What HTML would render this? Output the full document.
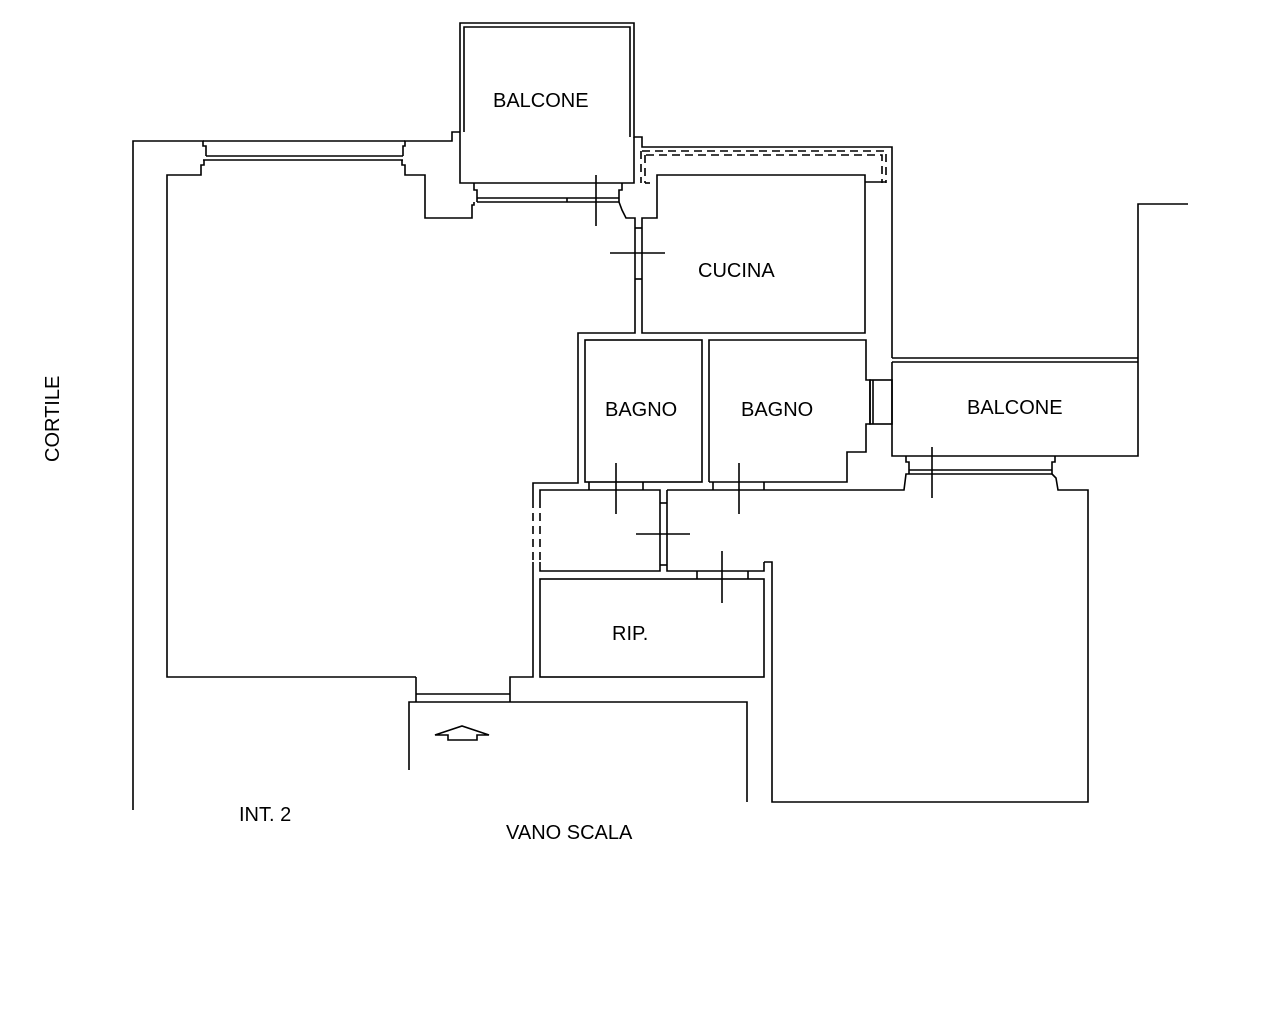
<!DOCTYPE html>
<html><head><meta charset="utf-8"><style>
html,body{margin:0;padding:0;background:#fff;}
svg{display:block;}
text{font-family:"Liberation Sans",sans-serif;font-size:20px;fill:#000;}
</style></head><body>
<svg width="1262" height="1024" viewBox="0 0 1262 1024" xmlns="http://www.w3.org/2000/svg">
<g fill="none" stroke="#000" stroke-width="1.6">
<polyline points="133,810 133,141 203,141 203,146 206,146 206,156"/>
<line x1="203" y1="141" x2="405" y2="141"/>
<polyline points="206,156 403,156"/>
<polyline points="203,160 403,160"/>
<polyline points="403,156 403,146 405,146 405,141 452,141 452,132 460,132"/>
<polyline points="416,677 167,677 167,175 201,175 201,165 204,165 204,160"/>
<polyline points="402,160 402,165 405,165 405,175 425,175 425,218 472,218 472,205 474,205 474,202"/>
<polyline points="460,132 460,23 634,23 634,137 642,137 642,147 892,147 892,358"/>
<polyline points="464,132 464,27 630,27 630,137"/>
<polyline points="460,132 460,183 634,183 634,137"/>
<polyline points="474,183 474,190 477,190 477,202"/>
<polyline points="622,183 622,190 619,190 619,202"/>
<line x1="477" y1="198" x2="619" y2="198"/>
<line x1="477" y1="202" x2="619" y2="202"/>
<line x1="567" y1="198" x2="567" y2="202"/>
<polyline points="619,202 622,210 626,218 635,218 635,333 578,333 578,483 533,483 533,500"/>
<g stroke-dasharray="8,5">
<polyline points="642,151 886,151 886,183"/>
<polyline points="646,155 882,155 882,183"/>
<line x1="641" y1="151" x2="641" y2="183"/>
<line x1="645" y1="155" x2="645" y2="183"/>
<line x1="533" y1="500" x2="533" y2="562"/>
<line x1="540" y1="500" x2="540" y2="562"/>
</g>
<line x1="645" y1="183" x2="650" y2="183"/>
<line x1="865" y1="182" x2="886" y2="182"/>
<polyline points="642,228 642,218 657,218 657,175 865,175 865,333 642,333 642,228"/>
<line x1="635" y1="228" x2="642" y2="228"/>
<line x1="635" y1="279" x2="642" y2="279"/>
<rect x="585" y="340" width="117" height="142"/>
<polyline points="709,482 709,340 866,340 866,380 870,380 870,424 866,424 866,452 847,452 847,482 709,482"/>
<rect x="870" y="380" width="22" height="44"/>
<line x1="873" y1="380" x2="873" y2="424"/>
<line x1="589" y1="482" x2="589" y2="490"/>
<line x1="643" y1="482" x2="643" y2="490"/>
<line x1="713" y1="482" x2="713" y2="490"/>
<line x1="764" y1="482" x2="764" y2="490"/>
<line x1="892" y1="358" x2="1138" y2="358"/>
<line x1="892" y1="362" x2="1138" y2="362"/>
<polyline points="1188,204 1138,204 1138,456 892,456 892,362"/>
<polyline points="906,456 906,462 909,462 909,474"/>
<polyline points="1055,456 1055,462 1052,462 1052,474"/>
<line x1="909" y1="470" x2="1052" y2="470"/>
<line x1="909" y1="474" x2="1052" y2="474"/>
<polyline points="667,490 904,490 906,474 909,474"/>
<polyline points="1052,474 1056,478 1058,490 1088,490 1088,802 772,802 772,562 764,562"/>
<polyline points="540,500 540,490 660,490 660,571 540,571 540,562"/>
<polyline points="533,562 533,677 510,677 510,702"/>
<polyline points="667,490 667,571 697,571"/>
<line x1="660" y1="503" x2="667" y2="503"/>
<line x1="660" y1="565" x2="667" y2="565"/>
<polyline points="697,571 764,571 764,562"/>
<line x1="697" y1="571" x2="697" y2="579"/>
<line x1="748" y1="571" x2="748" y2="579"/>
<rect x="540" y="579" width="224" height="98"/>
<polyline points="416,677 416,702"/>
<line x1="416" y1="694" x2="510" y2="694"/>
<polyline points="409,770 409,702 747,702 747,802"/>
<polygon points="435,735 462,726 489,735 477,735 477,740 448,740 448,735"/>
<line x1="596" y1="175" x2="596" y2="226"/>
<line x1="610" y1="253" x2="665" y2="253"/>
<line x1="616" y1="463" x2="616" y2="514"/>
<line x1="739" y1="463" x2="739" y2="514"/>
<line x1="636" y1="534" x2="690" y2="534"/>
<line x1="722" y1="551" x2="722" y2="603"/>
<line x1="932" y1="447" x2="932" y2="498"/>
</g>
<text x="493" y="107">BALCONE</text>
<text x="698" y="277">CUCINA</text>
<text x="605" y="416">BAGNO</text>
<text x="741" y="416">BAGNO</text>
<text x="967" y="414">BALCONE</text>
<text x="612" y="640">RIP.</text>
<text x="239" y="821">INT. 2</text>
<text x="506" y="839">VANO SCALA</text>
<text transform="translate(59,462) rotate(-90)">CORTILE</text>
</svg>
</body></html>
